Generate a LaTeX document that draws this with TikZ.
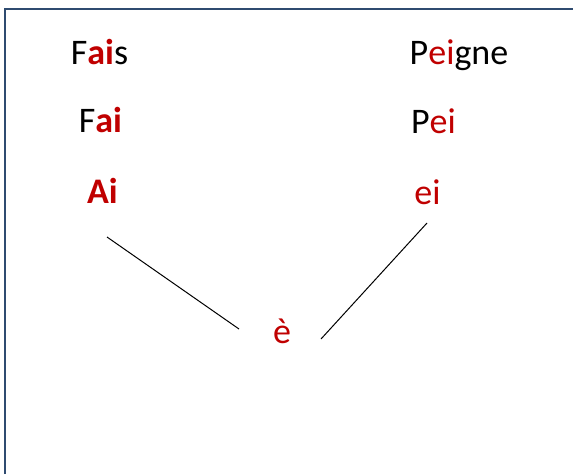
\documentclass[tikz,border=0pt]{standalone}
\usepackage{fontspec}
\setmainfont{Carlito}
\definecolor{redtxt}{HTML}{C00000}
\definecolor{frame}{HTML}{2F4B70}
\newcommand{\rb}[1]{\textcolor{redtxt}{\textbf{#1}}}
\newcommand{\rr}[1]{\textcolor{redtxt}{#1}}
\begin{document}
\begin{tikzpicture}[x=1pt,y=-1pt,
  word/.style={anchor=base,inner sep=0pt,font=\fontsize{36}{40}\selectfont},
  link/.style={draw=black,line width=1pt}]
\useasboundingbox (0,0) rectangle (573,474);
\draw[frame,line width=2.6pt] (5,474) -- (5,9) -- (573,9);
\node[word] (fais) at (99.5,64.5) {F\rb{ai}s};
\node[word] (fai) at (100.5,132.5) {F\rb{ai}};
\node[word] (ai) at (102.5,203.5) {\rb{Ai}};
\node[word] (peigne) at (459,64.5) {P\rr{ei}gne};
\node[word] (pei) at (433.5,133.5) {P\rr{ei}};
\node[word] (ei) at (427.5,204.5) {\rr{ei}};
\node[word] (e) at (282,343.5) {\rr{è}};
\coordinate (l1) at (107,237);
\coordinate (l2) at (239,329);
\coordinate (r1) at (427,223);
\coordinate (r2) at (321,339);
\draw[link] (l1) -- (l2);
\draw[link] (r1) -- (r2);
\end{tikzpicture}
\end{document}
